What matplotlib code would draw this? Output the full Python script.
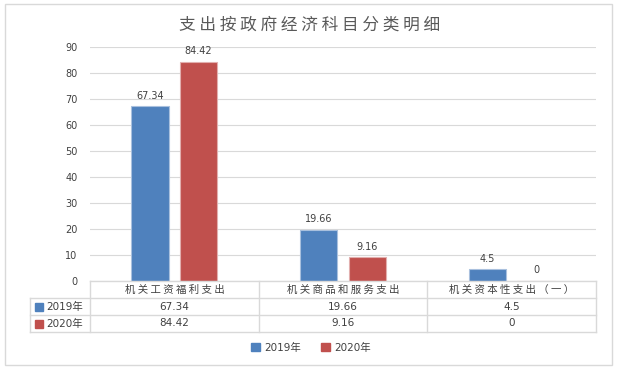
import matplotlib
matplotlib.use('Agg')
import matplotlib.pyplot as plt
from matplotlib.patches import Rectangle
import numpy as np

# DejaVu for the digits (wider, like the original), Noto for the Chinese
plt.rcParams['font.family'] = ['DejaVu Sans', 'Noto Sans CJK SC']

title = '支出按政府经济科目分类明细'
categories = ['机关工资福利支出', '机关商品和服务支出', '机关资本性支出（一）']
series_names = ['2019年', '2020年']
values_2019 = [67.34, 19.66, 4.5]
values_2020 = [84.42, 9.16, 0]
colors = ['#4F81BD', '#C0504D']
edges = ['#A9C0DE', '#E2AFAE']

W, H = 619, 371
fig = plt.figure(figsize=(W / 100, H / 100), dpi=100)

def fx(px):
    return px / W

def fy(py):
    return 1 - py / H

left, right, top, bottom = 90, 596, 47.3, 281
ax = fig.add_axes([fx(left), fy(bottom), fx(right) - fx(left), fy(top) - fy(bottom)])

x = np.arange(len(categories))
w = 0.222
off = 0.144
txt = '#404040'
grid = '#D9D9D9'

for i, (vals, c, e) in enumerate(zip([values_2019, values_2020], colors, edges)):
    pos = x + (i * 2 - 1) * off
    ax.bar(pos, vals, width=w, color=c, edgecolor=e, linewidth=0.8, zorder=3)
    for p, v in zip(pos, vals):
        ax.annotate(f'{v:g}', (p, v), xytext=(0, 4), textcoords='offset points',
                    ha='center', va='bottom', fontsize=7, color=txt)

ax.set_xlim(-0.5, 2.5)
ax.set_ylim(0, 90)
ax.set_yticks(range(0, 91, 10))
ax.set_xticks([])
ax.tick_params(axis='y', length=0, pad=9, labelsize=7, labelcolor=txt)
ax.grid(axis='y', color=grid, linewidth=0.8, zorder=0)
for s in ax.spines.values():
    s.set_visible(False)

# title
fig.text(0.5, fy(25), ' '.join(title), ha='center', va='center',
         fontsize=12, color='#595959', family=['Noto Sans CJK SC', 'DejaVu Sans'])

# data table below the axes
rows = [281, 298, 315, 332]
tab_left = 30
cat_w = (right - left) / len(categories)
lc = dict(color=grid, linewidth=1.0)
fig.add_artist(plt.Line2D([fx(left), fx(right)], [fy(rows[0])] * 2, transform=fig.transFigure, **lc))
for r in rows[1:]:
    fig.add_artist(plt.Line2D([fx(tab_left), fx(right)], [fy(r)] * 2, transform=fig.transFigure, **lc))
fig.add_artist(plt.Line2D([fx(tab_left)] * 2, [fy(rows[1]), fy(rows[3])], transform=fig.transFigure, **lc))
for k in range(len(categories) + 1):
    xx = left + k * cat_w
    fig.add_artist(plt.Line2D([fx(xx)] * 2, [fy(rows[0]), fy(rows[3])], transform=fig.transFigure, **lc))

for k, cat in enumerate(categories):
    cx = left + (k + 0.5) * cat_w
    fig.text(fx(cx), fy((rows[0] + rows[1]) / 2), ' '.join(cat), ha='center', va='center',
             fontsize=7.5, color=txt, family=['Noto Sans CJK SC', 'DejaVu Sans'])
    for j, vals in enumerate([values_2019, values_2020]):
        fig.text(fx(cx), fy((rows[j + 1] + rows[j + 2]) / 2), f'{vals[k]:g}', ha='center',
                 va='center', fontsize=7.5, color=txt)

for j, name in enumerate(series_names):
    cy = (rows[j + 1] + rows[j + 2]) / 2
    fig.add_artist(Rectangle((fx(35), fy(cy + 4)), fx(8), 8 / H, color=colors[j],
                             transform=fig.transFigure))
    fig.text(fx(46), fy(cy), name, ha='left', va='center', fontsize=7.5, color=txt)

# legend
handles = [Rectangle((0, 0), 1, 1, color=c) for c in colors]
fig.legend(handles, series_names, loc='center', bbox_to_anchor=(fx(311), fy(348)),
           ncol=2, frameon=False, fontsize=7.5, handlelength=0.8, handleheight=0.8,
           handletextpad=0.4, columnspacing=2.0, labelcolor=txt)

# outer border
fig.add_artist(Rectangle((fx(5), fy(365)), fx(607), (365 - 4) / H, fill=False,
                         edgecolor=grid, linewidth=1.0, transform=fig.transFigure))

fig.savefig('out.png', dpi=100)
